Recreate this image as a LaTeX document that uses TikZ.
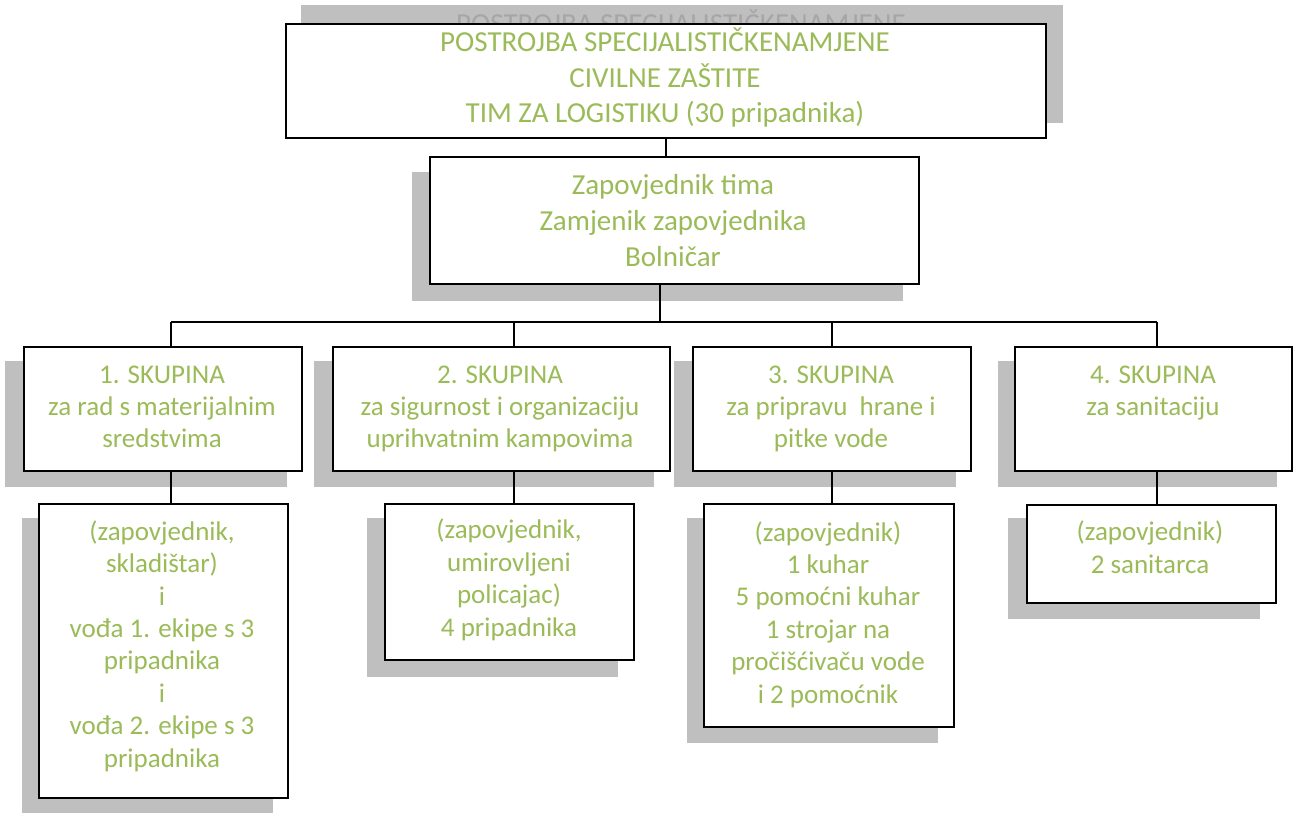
\documentclass[tikz,border=0pt]{standalone}
\usepackage{fontspec}
\setmainfont{Carlito}
\definecolor{txtgreen}{HTML}{9BBB59}
\definecolor{shadowgray}{HTML}{BFBFBF}
\definecolor{ghostgray}{HTML}{A6A6A6}
\tikzset{
  box/.style={draw=black, line width=2pt, fill=white, inner sep=0pt, anchor=north west},
  % base anchor = baseline of the last line
  lbl/.style={text=txtgreen, align=center, anchor=base, inner sep=0pt,
    font=\fontsize{27}{32.4}\selectfont},
  conn/.style={line width=2pt}
}
\begin{document}
\begin{tikzpicture}[x=1pt,y=-1pt]
\useasboundingbox (0,0) rectangle (1293,813);
% shadows
\fill[shadowgray] (301,5) rectangle (1063,123);
\node[text=ghostgray, anchor=base, inner sep=0pt, font=\fontsize{29}{35.5}\selectfont] (ghosttxt) at (681,34) {POSTROJBA SPECIJALISTIČKENAMJENE};
\fill[shadowgray] (412,172) rectangle (903,301);
\fill[shadowgray] (5,361) rectangle (287,487);
\fill[shadowgray] (314,361) rectangle (654,487);
\fill[shadowgray] (674,361) rectangle (956,487);
\fill[shadowgray] (998,361) rectangle (1277,487);
\fill[shadowgray] (22,518) rectangle (273,813);
\fill[shadowgray] (367,518) rectangle (618,677);
\fill[shadowgray] (687,518) rectangle (938,743);
\fill[shadowgray] (1008,518) rectangle (1260,619);
% boxes
\node[box, minimum width=760pt, minimum height=114pt] (top) at (285,23) {};
\node[box, minimum width=489pt, minimum height=127pt] (chief) at (429,156) {};
\node[box, minimum width=278pt, minimum height=124pt] (grp1) at (23,346) {};
\node[box, minimum width=337pt, minimum height=124pt] (grp2) at (332,346) {};
\node[box, minimum width=278pt, minimum height=124pt] (grp3) at (692,346) {};
\node[box, minimum width=277pt, minimum height=124pt] (grp4) at (1014,346) {};
\node[box, minimum width=249pt, minimum height=294pt] (sub1) at (38,503) {};
\node[box, minimum width=249pt, minimum height=156pt] (sub2) at (384,503) {};
\node[box, minimum width=250pt, minimum height=223pt] (sub3) at (703,503) {};
\node[box, minimum width=249pt, minimum height=98pt] (sub4) at (1026,504) {};
% texts
\node[lbl, font=\fontsize{29}{35.5}\selectfont] (toptxt) at (665,123) {POSTROJBA SPECIJALISTIČKENAMJENE\\CIVILNE ZAŠTITE\\TIM ZA LOGISTIKU (30 pripadnika)};
\node[lbl, font=\fontsize{29}{36}\selectfont] (chieftxt) at (673,266) {Zapovjednik tima\\Zamjenik zapovjednika\\Bolničar};
\node[lbl, font=\fontsize{27}{32}\selectfont] (grp1txt) at (162,447) {1. SKUPINA\\za rad s materijalnim\\sredstvima};
\node[lbl, font=\fontsize{27}{32}\selectfont] (grp2txt) at (500,447) {2. SKUPINA\\za sigurnost i organizaciju\\uprihvatnim kampovima};
\node[lbl, font=\fontsize{27}{32}\selectfont] (grp3txt) at (831,447) {3. SKUPINA\\za pripravu\ \ hrane i\\pitke vode};
\node[lbl, font=\fontsize{27}{32}\selectfont] (grp4txt) at (1153,415) {4. SKUPINA\\za sanitaciju};
\node[lbl] (sub1txt) at (162,767) {(zapovjednik,\\skladištar)\\i\\vođa 1. ekipe s 3\\pripadnika\\i\\vođa 2. ekipe s 3\\pripadnika};
\node[lbl] (sub2txt) at (509,636) {(zapovjednik,\\umirovljeni\\policajac)\\4 pripadnika};
\node[lbl] (sub3txt) at (828,703) {(zapovjednik)\\1 kuhar\\5 pomoćni kuhar\\1 strojar na\\pročišćivaču vode\\i 2 pomoćnik};
\node[lbl] (sub4txt) at (1150,573) {(zapovjednik)\\2 sanitarca};
% connectors
\coordinate (bus) at (660,322);
\coordinate (d1) at (171,322);
\coordinate (d2) at (514,322);
\coordinate (d3) at (832,322);
\coordinate (d4) at (1157,322);
\draw[conn] (top.south) -- (top.south |- chief.north);
\draw[conn] (bus |- chief.south) -- (bus);
\draw[conn] (d1) -- (d4);
\draw[conn] (d1) -- (d1 |- grp1.north);
\draw[conn] (d2) -- (d2 |- grp2.north);
\draw[conn] (d3) -- (d3 |- grp3.north);
\draw[conn] (d4) -- (d4 |- grp4.north);
\draw[conn] (d1 |- grp1.south) -- (d1 |- sub1.north);
\draw[conn] (d2 |- grp2.south) -- (d2 |- sub2.north);
\draw[conn] (d3 |- grp3.south) -- (d3 |- sub3.north);
\draw[conn] (d4 |- grp4.south) -- (d4 |- sub4.north);
\end{tikzpicture}
\end{document}
